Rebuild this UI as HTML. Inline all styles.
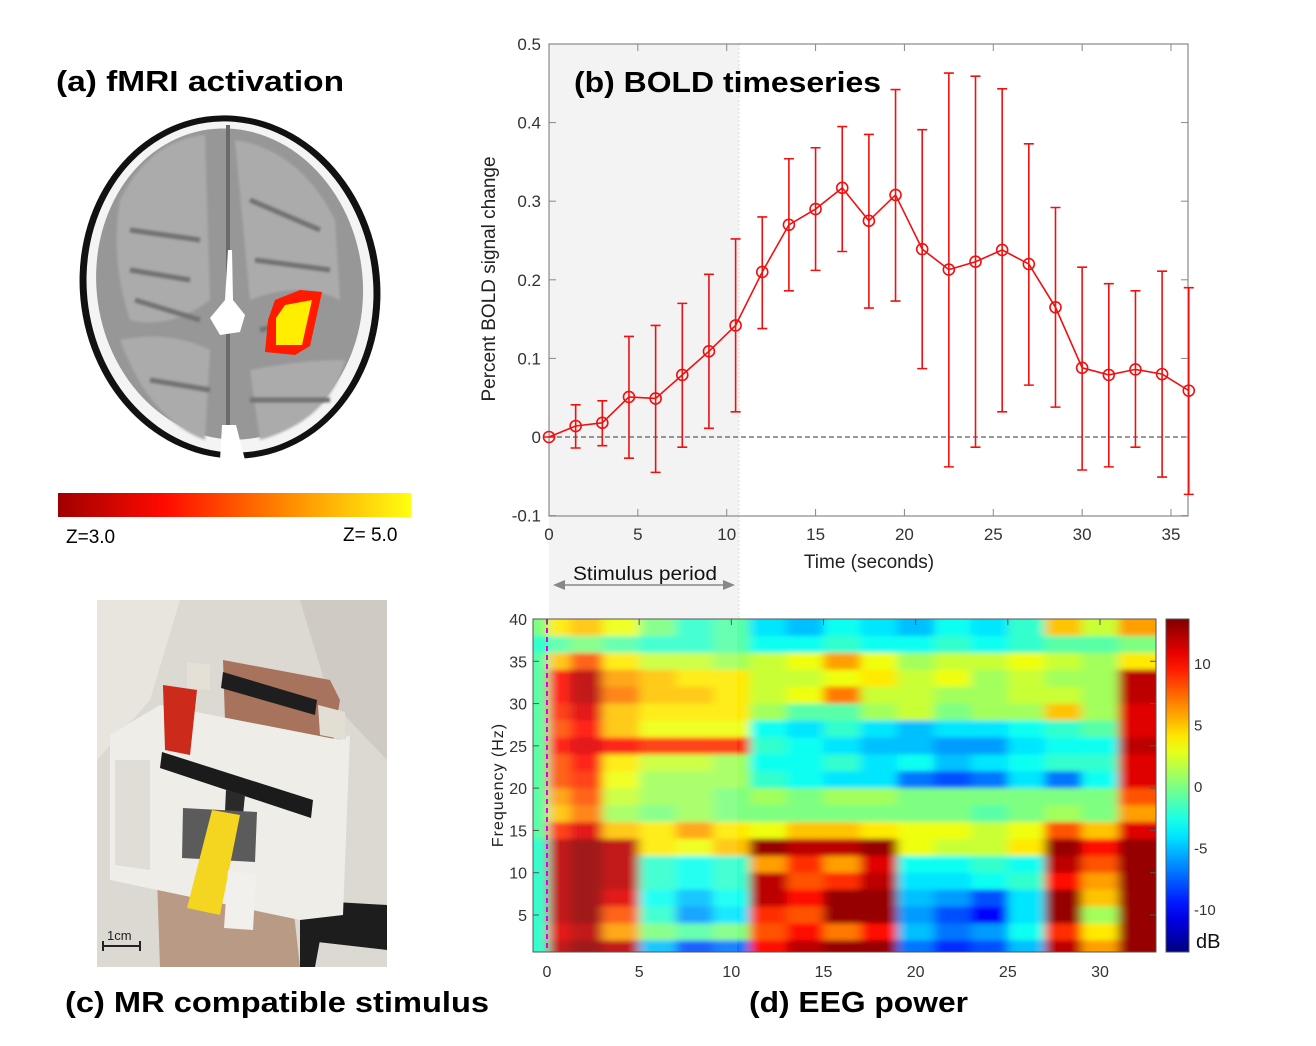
<!DOCTYPE html>
<html><head><meta charset="utf-8"><style>
html,body{margin:0;padding:0;background:#fff;}
svg{display:block;font-family:"Liberation Sans",sans-serif;}
</style></head><body>
<svg id="fig" width="1316" height="1046" viewBox="0 0 1316 1046">
<defs>
  <linearGradient id="zgrad" x1="0" x2="1" y1="0" y2="0">
    <stop offset="0" stop-color="#a00000"/><stop offset="0.3" stop-color="#ff0a00"/>
    <stop offset="0.65" stop-color="#ff8a00"/><stop offset="1" stop-color="#ffff10"/>
  </linearGradient>
  <linearGradient id="cbgrad" x1="0" x2="0" y1="1" y2="0"></linearGradient>
  <filter id="hblur" x="-5%" y="-5%" width="110%" height="110%"><feGaussianBlur stdDeviation="5 2.5"/></filter>
  <filter id="soft"><feGaussianBlur stdDeviation="1.2"/></filter>
  <clipPath id="eegclip"><rect x="533" y="619" width="623" height="333"/></clipPath>
  <clipPath id="photoclip"><rect x="97" y="600" width="290" height="367"/></clipPath>
</defs>

<!-- (a) brain -->
<g>
  <ellipse cx="230" cy="287" rx="150" ry="172" fill="#111" transform="rotate(-8 230 287)"/>
  <ellipse cx="230" cy="287" rx="143" ry="166" fill="#f4f4f4" transform="rotate(-8 230 287)"/>
  <ellipse cx="230" cy="284" rx="133" ry="156" fill="#979797" transform="rotate(-8 230 287)"/>
  <g fill="#ababab" filter="url(#soft)">
    <path d="M120 200 Q150 140 205 135 L210 300 Q170 330 130 320 Q110 260 120 200Z"/>
    <path d="M235 140 Q300 150 335 220 L340 300 Q300 280 250 300 Z"/>
    <path d="M120 340 Q170 330 210 350 L205 440 Q150 420 120 340Z"/>
    <path d="M250 370 Q300 360 345 360 Q330 420 260 440Z"/>
  </g>
  <g stroke="#727272" stroke-width="5" fill="none" filter="url(#soft)">
    <path d="M130 230 L200 240 M130 270 L190 280 M135 300 L200 320 M150 380 L210 390"/>
    <path d="M250 200 L320 230 M255 260 L330 270 M260 330 L300 320 M250 400 L330 400"/>
  </g>
  <path d="M228 125 L228 430" stroke="#6a6a6a" stroke-width="4"/>
  <path d="M228 250 L225 300 L210 318 L220 335 L240 332 L245 315 L233 300 L232 250Z" fill="#fff"/>
  <path d="M222 425 L236 425 L245 460 L220 460Z" fill="#fff"/>
  <path d="M268 320 L275 300 L300 290 L322 292 L310 346 L295 355 L265 352Z" fill="#ff1a00"/>
  <path d="M276 318 L285 305 L312 300 L302 345 L276 345Z" fill="#ffee00"/>
</g>
<rect x="58" y="493" width="353" height="24" fill="url(#zgrad)"/>
<text x="66" y="543" font-size="19" fill="#000">Z=3.0</text>
<text x="343" y="541" font-size="19" fill="#000">Z= 5.0</text>
<text x="56" y="91" font-size="29" font-weight="bold" textLength="288" lengthAdjust="spacingAndGlyphs">(a) fMRI activation</text>

<!-- (c) photo -->
<g clip-path="url(#photoclip)">
  <rect x="97" y="600" width="290" height="367" fill="#dcd8d2"/>
  <path d="M97 600 L180 600 L150 700 L97 760Z" fill="#e8e4de"/>
  <path d="M300 600 L387 600 L387 760 L330 700Z" fill="#cfcac4"/>
  <path d="M157 878 L290 878 L300 967 L160 967Z" fill="#b99a85"/>
  <path d="M300 900 L387 905 L387 950 L300 940Z" fill="#1d1d1d"/>
  <path d="M300 940 L320 940 L315 967 L300 967Z" fill="#1d1d1d"/>
  <path d="M223 660 L330 680 L340 700 L330 760 L300 785 L240 780 L225 720Z" fill="#a8735c"/>
  <path d="M110 735 L160 705 L340 740 L350 735 L343 915 L300 920 L110 880Z" fill="#efede8"/>
  <path d="M115 760 L150 760 L150 870 L115 865Z" fill="#e0ddd7"/>
  <path d="M163 685 L197 690 L190 755 L165 750Z" fill="#cc2a1a"/>
  <path d="M187 662 L210 665 L210 690 L187 688Z" fill="#e4e0d5"/>
  <path d="M223 672 L317 700 L315 715 L221 688Z" fill="#1e1e1e"/>
  <path d="M318 705 L345 712 L346 740 L320 735Z" fill="#e2ded3"/>
  <path d="M162 752 L313 800 L311 818 L160 768Z" fill="#1b1b1b"/>
  <path d="M226 790 L245 795 L243 815 L225 811Z" fill="#2a2a2a"/>
  <path d="M183 808 L257 812 L255 862 L182 858Z" fill="#5b5b5b"/>
  <path d="M212 810 L240 815 L220 915 L187 908Z" fill="#f4d520"/>
  <path d="M228 870 L256 875 L253 930 L224 928Z" fill="#f2f0ec"/>
  <text x="107" y="940" font-size="13" fill="#222">1cm</text>
  <path d="M103 946 L140 946 M103 941 L103 951 M140 941 L140 951" stroke="#222" stroke-width="2"/>
</g>
<text x="65" y="1012" font-size="29" font-weight="bold" textLength="424" lengthAdjust="spacingAndGlyphs">(c) MR compatible stimulus</text>

<!-- (b) BOLD -->
<g id="bold">
  <rect x="549" y="44" width="190" height="575" fill="#f3f3f3"/>
  <line x1="739" y1="44" x2="739" y2="619" stroke="#ddd" stroke-dasharray="2 2"/>
  <g id="boldaxes"></g>
  <g id="boldmarks"></g>
  <text x="574" y="92" font-size="29" font-weight="bold" textLength="307" lengthAdjust="spacingAndGlyphs">(b) BOLD timeseries</text>
  <text x="869" y="568" font-size="19" fill="#222" text-anchor="middle">Time (seconds)</text>
  <text transform="translate(495 279) rotate(-90)" font-size="19" fill="#222" text-anchor="middle">Percent BOLD signal change</text>
</g>
<g>
  <line x1="562" y1="585" x2="726" y2="585" stroke="#888" stroke-width="1.5"/>
  <path d="M553 585 L565 580 L565 590Z M735 585 L723 580 L723 590Z" fill="#888"/>
  <text x="645" y="580" font-size="19" text-anchor="middle" fill="#111" textLength="144" lengthAdjust="spacingAndGlyphs">Stimulus period</text>
</g>

<!-- (d) EEG -->
<g id="eeg">
  <g clip-path="url(#eegclip)"><g id="heat" filter="url(#hblur)"></g>
    <rect x="547" y="619" width="190" height="333" fill="#fff" opacity="0.1"/>
  </g>
  <rect x="533" y="619" width="623" height="333" fill="none" stroke="#555" stroke-width="1"/>
  <line x1="547" y1="619" x2="547" y2="952" stroke="#e000e0" stroke-width="2" stroke-dasharray="5 4"/>
  <g id="eegaxes"></g>
  <rect id="cbar" x="1166" y="619" width="23" height="333" stroke="#555" stroke-width="1"/>
  <text x="1196" y="948" font-size="20" fill="#111">dB</text>
  <text transform="translate(503 785) rotate(-90)" font-size="16" fill="#222" text-anchor="middle" letter-spacing="1">Frequency (Hz)</text>
</g>
<text x="749" y="1012" font-size="29" font-weight="bold" textLength="219" lengthAdjust="spacingAndGlyphs">(d) EEG power</text>
</svg>
<script>
// ---------- BOLD data ----------
const boldTimes = [0,1.5,3,4.5,6,7.5,9,10.5,12,13.5,15,16.5,18,19.5,21,22.5,24,25.5,27,28.5,30,31.5,33,34.5,36];
const boldMean  = [0,0.014,0.018,0.051,0.049,0.079,0.109,0.142,0.210,0.270,0.290,0.317,0.275,0.308,0.239,0.213,0.223,0.238,0.220,0.165,0.088,0.079,0.086,0.080,0.059];
const boldUpper = [0,0.041,0.046,0.128,0.142,0.170,0.207,0.252,0.280,0.354,0.368,0.395,0.385,0.442,0.391,0.463,0.459,0.443,0.373,0.292,0.216,0.195,0.186,0.211,0.190];
const boldLower = [0,-0.014,-0.011,-0.027,-0.045,-0.013,0.011,0.032,0.138,0.186,0.212,0.236,0.164,0.173,0.087,-0.038,-0.013,0.032,0.066,0.038,-0.042,-0.038,-0.013,-0.051,-0.073];
const boldXTicks = [0,5,10,15,20,25,30,35];
const boldYTicks = [-0.1,0,0.1,0.2,0.3,0.4,0.5];
const boldYTickLabels = ["-0.1","0","0.1","0.2","0.3","0.4","0.5"];

// ---------- EEG data ----------
const eegTimeCenters = [-0.4,0.5,2,4,6,8,10,12,14,16,18,20,22,24,26,28,30,32];
const eegFreqCenters = [39,37,35,33,31,29,27,25,23,21,19,17,15,13,11,9,7,5,3,1];
const eegPower = [
[0,4,5,3,0,-2,-1,-4,-5,-3,-4,-5,-3,-4,-2,5,2,6],
[-2,-1,0,-1,-2,-2,-1,-3,-3,-2,-3,-3,-2,-3,-2,-1,-1,0],
[-1,5,8,4,2,2,1,2,3,6,3,1,2,2,3,2,1,4],
[-1,10,12,6,5,4,4,2,2,3,4,2,3,1,2,1,1,12],
[-1,10,12,7,5,5,4,2,3,7,2,2,1,1,2,2,1,12],
[-1,9,11,5,4,4,4,1,-1,-1,1,2,0,1,1,5,1,11],
[-1,8,10,5,3,3,3,-3,-4,-2,-4,-5,-4,-4,-3,-2,-1,11],
[-1,10,11,10,9,9,9,-2,-3,-4,-5,-5,-6,-6,-4,-3,-3,12],
[-1,8,10,4,2,2,1,-3,-3,-2,-4,-3,-5,-4,-3,-2,-2,11],
[-1,8,9,3,1,1,1,-2,-3,-4,-4,-7,-8,-7,-4,-7,-3,11],
[-1,6,8,2,1,1,0,1,0,1,1,0,0,0,0,0,0,8],
[-1,5,7,1,0,1,0,0,0,0,0,0,0,-1,0,1,0,6],
[-1,9,11,5,4,6,4,3,5,5,4,3,3,2,3,8,5,11],
[-2,12,13,12,4,3,5,13,12,12,13,3,2,2,4,13,10,13],
[-2,12,13,12,-2,-3,-2,6,9,6,11,-3,-3,-2,-3,12,8,13],
[-2,12,13,12,-2,-3,-2,12,8,9,12,-4,-4,-3,-2,10,6,13],
[-2,12,13,11,-3,-5,-3,12,10,13,13,-5,-6,-8,-4,13,5,13],
[-2,12,13,8,-2,-6,-4,9,8,13,13,-6,-8,-10,-4,13,1,13],
[-2,11,12,6,0,-1,0,8,10,7,10,-5,-7,-6,-3,9,4,13],
[-2,12,13,12,-5,-8,-7,10,12,13,13,-7,-9,-8,-5,12,6,13]];
const eegXTicks = [0,5,10,15,20,25,30];
const eegYTicks = [5,10,15,20,25,30,35,40];
const cbTicks = [-10,-5,0,5,10];

const NS = "http://www.w3.org/2000/svg";
function mk(tag, attrs, parent){const e=document.createElementNS(NS,tag);for(const k in attrs)e.setAttribute(k,attrs[k]);parent.appendChild(e);return e;}

// BOLD scales
const bx = t => 549 + t*(1171-549)/35;
const by = v => 437 - v*(437-44)/0.5;
const ax = document.getElementById('boldaxes');
const frame = mk('rect',{x:549,y:44,width:639,height:472,fill:'none',stroke:'#888','stroke-width':1.2},ax);


boldXTicks.forEach(t=>{
  mk('line',{x1:bx(t),y1:516,x2:bx(t),y2:509,stroke:'#888'},ax);
  mk('line',{x1:bx(t),y1:44,x2:bx(t),y2:51,stroke:'#888'},ax);
  const l=mk('text',{x:bx(t),y:540,'font-size':17,fill:'#333','text-anchor':'middle'},ax);
  l.textContent=t;
  
  
});
boldYTicks.forEach((v,i)=>{
  mk('line',{x1:549,y1:by(v),x2:556,y2:by(v),stroke:'#888'},ax);
  mk('line',{x1:1188,y1:by(v),x2:1181,y2:by(v),stroke:'#888'},ax);
  const l=mk('text',{x:541,y:by(v)+6,'font-size':17,fill:'#333','text-anchor':'end'},ax);
  l.textContent=boldYTickLabels[i];
  
  
});
const zl=mk('line',{x1:549,y1:by(0),x2:1188,y2:by(0),stroke:'#333','stroke-dasharray':'5 3'},ax);



const bm=document.getElementById('boldmarks');
boldTimes.forEach((t,i)=>{
  const x=bx(t);
  const eb=mk('path',{d:`M${x} ${by(boldUpper[i])}V${by(boldLower[i])}M${x-5} ${by(boldUpper[i])}H${x+5}M${x-5} ${by(boldLower[i])}H${x+5}`,stroke:'#f01010','stroke-width':1.6,fill:'none'},bm);
  
  
});
const line=mk('polyline',{points:boldTimes.map((t,i)=>bx(t)+','+by(boldMean[i])).join(' '),fill:'none',stroke:'#f01010','stroke-width':1.6},bm);


boldTimes.forEach((t,i)=>{
  const c=mk('circle',{cx:bx(t),cy:by(boldMean[i]),r:5.5,fill:'none',stroke:'#f01010','stroke-width':1.6},bm);
  
  
});

// EEG
const ex = t => 547 + t*(1100-547)/30;
const ey = f => 915 - (f-5)*(915-619)/35;
const cmin=-13.5, cmax=13.6;
function jet(v){let t=(v-cmin)/(cmax-cmin);t=Math.max(0,Math.min(1,t));
  const c=x=>Math.round(255*Math.max(0,Math.min(1,x)));
  return `rgb(${c(1.5-Math.abs(4*t-3))},${c(1.5-Math.abs(4*t-2))},${c(1.5-Math.abs(4*t-1))})`;}
const heat=document.getElementById('heat');
const nC=eegTimeCenters.length;
function leftEdge(c){return c===0?-2:(eegTimeCenters[c-1]+eegTimeCenters[c])/2;}
function rightEdge(c){return c===nC-1?35:(eegTimeCenters[c]+eegTimeCenters[c+1])/2;}
eegFreqCenters.forEach((f,r)=>{
  eegTimeCenters.forEach((t,c)=>{
    const x0=ex(leftEdge(c)), x1=ex(rightEdge(c));
    const y0=ey(f+1)-(r===0?10:0), y1=ey(f-1)+(r===eegFreqCenters.length-1?10:0);
    const cell=mk('rect',{x:x0,y:y0,width:x1-x0+0.5,height:y1-y0+0.5,fill:jet(eegPower[r][c])},heat);
    
    
  });
});
const eax=document.getElementById('eegaxes');
eegXTicks.forEach(t=>{
  mk('line',{x1:ex(t),y1:619,x2:ex(t),y2:625,stroke:'#555'},eax);
  const l=mk('text',{x:ex(t),y:977,'font-size':16,fill:'#333','text-anchor':'middle'},eax);
  l.textContent=t;
  
  
});
eegYTicks.forEach(f=>{
  mk('line',{x1:533,y1:ey(f),x2:539,y2:ey(f),stroke:'#555'},eax);
  mk('line',{x1:1156,y1:ey(f),x2:1150,y2:ey(f),stroke:'#555'},eax);
  const l=mk('text',{x:527,y:ey(f)+6,'font-size':16,fill:'#333','text-anchor':'end'},eax);
  l.textContent=f;
  
  
});
// colorbar
const grad=document.getElementById('cbgrad');
for(let i=0;i<=20;i++){const v=cmin+(cmax-cmin)*i/20;mk('stop',{offset:i/20,'stop-color':jet(v)},grad);}
document.getElementById('cbar').setAttribute('fill','url(#cbgrad)');
const cy = v => 952 - (v-cmin)*(333)/(cmax-cmin);
cbTicks.forEach(v=>{
  mk('line',{x1:1189,y1:cy(v),x2:1185,y2:cy(v),stroke:'#555'},eax);
  const l=mk('text',{x:1194,y:cy(v)+6,'font-size':15,fill:'#333'},eax);
  l.textContent=v;
  
  
});
</script>
</body></html>
